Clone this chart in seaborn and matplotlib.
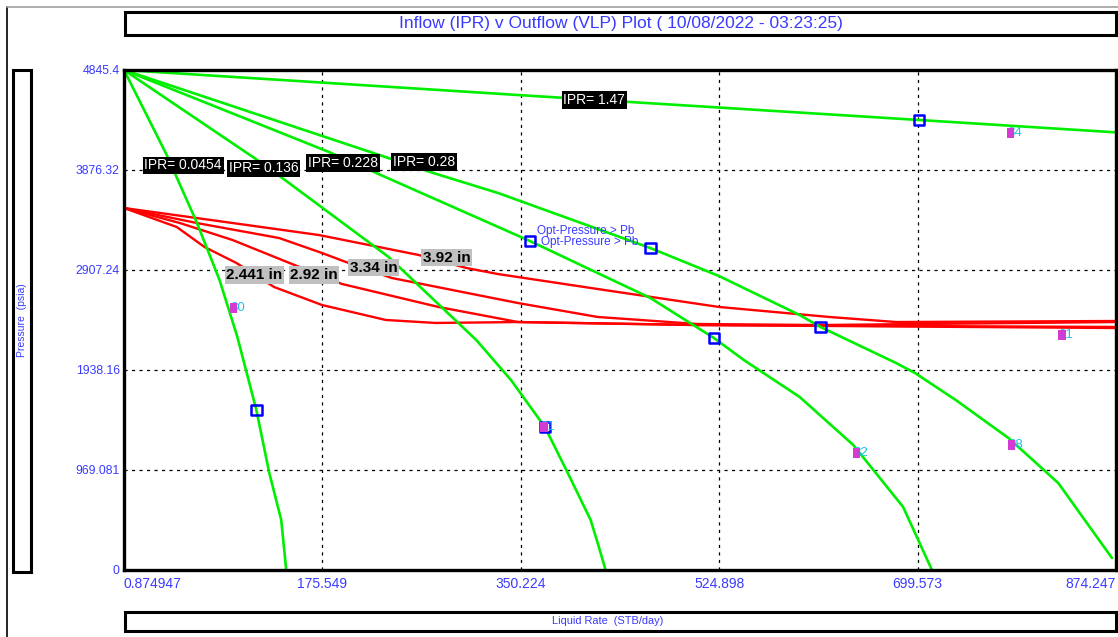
import numpy as np
import pandas as pd
import matplotlib
matplotlib.use("Agg")
import matplotlib.pyplot as plt
from matplotlib.patches import Rectangle
from matplotlib.lines import Line2D
from matplotlib.transforms import offset_copy
import seaborn as sns

# ---------------- data ----------------
title_text = "Inflow (IPR) v Outflow (VLP) Plot ( 10/08/2022 - 03:23:25)"
x_label = "Liquid Rate  (STB/day)"
y_label = "Pressure  (psia)"

x_ticks = [0.874947, 175.549, 350.224, 524.898, 699.573, 874.247]
x_tick_labels = ["0.874947", "175.549", "350.224", "524.898", "699.573", "874.247"]
y_ticks = [0, 969.081, 1938.16, 2907.24, 3876.32, 4845.4]
y_tick_labels = ["0", "969.081", "1938.16", "2907.24", "3876.32", "4845.4"]

# Inflow (IPR) curves: liquid rate (STB/day) vs flowing pressure (psia)
ipr_names = ["IPR= 0.0454", "IPR= 0.136", "IPR= 0.228", "IPR= 0.28", "IPR= 1.47"]
ipr_0454_rate = [0.875, 38.5, 64.8, 85.0, 100.7, 117.4, 128.8, 139.3, 143.7]
ipr_0454_pres = [4845.4, 4022, 3372, 2810, 2258, 1551, 940, 485, 0]
ipr_0136_rate = [0.875, 115.6, 140.2, 233.9, 311.0, 341.6, 371.4, 391.6, 411.7, 417.9, 424.9]
ipr_0136_pres = [4845.4, 3993, 3799, 3033, 2229, 1841, 1386, 940, 485, 262, 0]
ipr_0228_rate = [0.875, 181.3, 226.9, 358.3, 464.3, 520.3, 546.6, 595.7, 643.0, 686.8, 712.2]
ipr_0228_pres = [4845.4, 4051, 3828, 3188, 2636, 2248, 2035, 1677, 1211, 611, 0]
ipr_028_rate = [0.875, 273.3, 330.3, 464.3, 524.7, 595.7, 614.1, 680.6, 697.3, 733.2, 779.6, 823.4, 870.7]
ipr_028_pres = [4845.4, 3847, 3653, 3120, 2849, 2471, 2355, 2006, 1909, 1647, 1279, 843, 116]
ipr_147_rate = [0.875, 347.8, 700.8, 874.2]
ipr_147_pres = [4845.4, 4603, 4361, 4241]

# label anchor points for the IPR curves
ipr_label_rate = [53.0, 124.0, 193.6, 265.0, 414.8]
ipr_label_pres = [3920, 3891, 3944, 3954, 4555]

# Outflow (VLP) curves for each tubing size
vlp_names = ["2.441 in", "2.92 in", "3.34 in", "3.92 in"]
vlp_2441_rate = [0.875, 47.3, 71.8, 99.9, 133.1, 175.2, 231.3, 275.1, 347.8, 505.5, 874.2]
vlp_2441_pres = [3508, 3324, 3130, 2975, 2742, 2568, 2423, 2394, 2403, 2374, 2345]
vlp_292_rate = [0.875, 49.9, 96.4, 148.9, 192.7, 277.7, 347.8, 505.5, 874.2]
vlp_292_pres = [3508, 3363, 3198, 2965, 2772, 2549, 2403, 2374, 2355]
vlp_334_rate = [0.875, 64.8, 137.5, 175.2, 196.2, 236.5, 347.8, 417.9, 505.5, 613.2, 874.2]
vlp_334_pres = [3508, 3363, 3217, 3072, 2985, 2830, 2587, 2452, 2384, 2374, 2403]
vlp_392_rate = [0.875, 64.8, 172.6, 260.2, 302.2, 330.2, 417.9, 524.7, 621.9, 680.6, 874.2]
vlp_392_pres = [3508, 3411, 3246, 3053, 2927, 2868, 2723, 2549, 2452, 2403, 2413]

vlp_label_rate = [115.6, 168.2, 220.8, 284.7]
vlp_label_pres = [2859, 2859, 2927, 3024]

# operating points (intersections)
op_rate = [117.4, 371.4, 358.3, 520.3, 464.3, 614.1, 700.8]
op_pres = [1551, 1386, 3188, 2248, 3120, 2355, 4361]

opt_text = "Opt-Pressure > Pb"
opt_rate = [364.4, 367.9]
opt_pres = [3285, 3178]

# small case tags next to the curves
tag_text = ["30", "31", "32", "38", "34", "31"]
tag_rate = [97.2, 370.5, 645.6, 782.2, 781.3, 826.9]
tag_pres = [2539, 1386, 1134, 1211, 4235, 2277]

# ---------------- tables ----------------
ipr_rates = [ipr_0454_rate, ipr_0136_rate, ipr_0228_rate, ipr_028_rate, ipr_147_rate]
ipr_pres = [ipr_0454_pres, ipr_0136_pres, ipr_0228_pres, ipr_028_pres, ipr_147_pres]
ipr_df = pd.concat(
    [pd.DataFrame({"rate": r, "pressure": p, "curve": n}) for n, r, p in zip(ipr_names, ipr_rates, ipr_pres)],
    ignore_index=True,
)
vlp_rates = [vlp_2441_rate, vlp_292_rate, vlp_334_rate, vlp_392_rate]
vlp_pres = [vlp_2441_pres, vlp_292_pres, vlp_334_pres, vlp_392_pres]
vlp_df = pd.concat(
    [pd.DataFrame({"rate": r, "pressure": p, "curve": n}) for n, r, p in zip(vlp_names, vlp_rates, vlp_pres)],
    ignore_index=True,
)
op_df = pd.DataFrame({"rate": op_rate, "pressure": op_pres})
tag_df = pd.DataFrame({"rate": tag_rate, "pressure": tag_pres})

# ---------------- style ----------------
sns.set_theme(style="white")
plt.rcParams["font.family"] = ["Liberation Sans", "DejaVu Sans"]

BLUE_TXT = "#3a3aff"
W, H = 1118, 637
fig = plt.figure(figsize=(W / 100, H / 100), dpi=100)
fig.patch.set_facecolor("white")


def fx(px):
    return px / W


def fy(py):
    return 1 - py / H


ax = fig.add_axes([fx(124), fy(570), (1116 - 124) / W, 500 / H])
ax.set_facecolor("white")

sns.lineplot(data=vlp_df, x="rate", y="pressure", units="curve", estimator=None,
             color="#ff0000", lw=1.7, sort=False, ax=ax, legend=False, zorder=3)
sns.lineplot(data=ipr_df, x="rate", y="pressure", units="curve", estimator=None,
             color="#00ee00", lw=1.9, sort=False, ax=ax, legend=False, zorder=4)
sns.scatterplot(data=op_df, x="rate", y="pressure", marker="s", s=55,
                facecolor="none", edgecolor="#0000ff", linewidth=1.8, ax=ax, zorder=6)

ax.set_xlim(x_ticks[0], x_ticks[-1])
ax.set_ylim(y_ticks[0], y_ticks[-1])
ax.set_xticks(x_ticks)
ax.set_xticklabels(x_tick_labels)
ax.set_yticks(y_ticks)
ax.set_yticklabels(y_tick_labels)
ax.tick_params(axis="both", length=0, labelcolor=BLUE_TXT)
ax.tick_params(axis="x", pad=5, labelsize=10)
ax.tick_params(axis="y", pad=3, labelsize=8.8)
xt = ax.get_xticklabels()
xt[0].set_ha("left")
xt[-1].set_ha("right")

ax.grid(True, color="black", linestyle=(0, (2.5, 3.5)), lw=0.9)
for s in ax.spines.values():
    s.set_color("black")
    s.set_linewidth(2.4)
    s.set_zorder(8)

# curve labels
for t, x, y in zip(ipr_names, ipr_label_rate, ipr_label_pres):
    ax.text(x, y, t, ha="center", va="center", color="white", fontsize=10, zorder=7,
            bbox=dict(boxstyle="square,pad=0.12", fc="black", ec="none"))
for t, x, y in zip(vlp_names, vlp_label_rate, vlp_label_pres):
    ax.text(x, y, t, ha="center", va="center", color="black", fontsize=11, fontweight="bold",
            zorder=7, bbox=dict(boxstyle="square,pad=0.1", fc="#c0c0c0", ec="none"))

for x, y in zip(opt_rate, opt_pres):
    ax.text(x, y, opt_text, ha="left", va="center", color=BLUE_TXT, fontsize=8.5, zorder=7)

# case tags: cyan number with a magenta swatch over its first digit
tag_tf = offset_copy(ax.transData, fig=fig, x=-3.3, y=0, units="dots")
for t, x, y in zip(tag_text, tag_rate, tag_pres):
    ax.text(x, y, t, ha="left", va="center", color="#18c4e4", fontsize=9.5, zorder=7,
            transform=tag_tf)
swatch = [(-0.8, -1.0), (0.8, -1.0), (0.8, 1.0), (-0.8, 1.0), (-0.8, -1.0)]
sns.scatterplot(data=tag_df, x="rate", y="pressure", marker=swatch, s=45, color="#d23cd2",
                edgecolor="none", ax=ax, zorder=7.5, legend=False)

ax.set_xlabel("")
ax.set_ylabel("")

# ---------------- frame and label boxes ----------------
fig.add_artist(Line2D([fx(7), fx(7)], [fy(7), fy(637)], color="black", lw=1.2))
fig.add_artist(Line2D([fx(7), fx(1118)], [fy(7), fy(7)], color="#a0a0a0", lw=1.2))

fig.add_artist(Rectangle((fx(125), fy(35)), (1116 - 125) / W, 23 / H, transform=fig.transFigure,
                         fill=False, ec="black", lw=2.2))
fig.text(fx(621), fy(23.5), title_text, ha="center", va="center", color=BLUE_TXT, fontsize=12.5)

fig.add_artist(Rectangle((fx(13), fy(572)), 18 / W, 502 / H, transform=fig.transFigure,
                         fill=False, ec="black", lw=2.2))
fig.text(fx(22), fy(320), y_label, ha="center", va="center", rotation=90, color=BLUE_TXT, fontsize=7.5)

fig.add_artist(Rectangle((fx(125), fy(631)), (1116 - 125) / W, 19 / H, transform=fig.transFigure,
                         fill=False, ec="black", lw=2.2))
fig.text(fx(608), fy(621.5), x_label, ha="center", va="center", color=BLUE_TXT, fontsize=7.9)

fig.savefig("out.png", dpi=100)
